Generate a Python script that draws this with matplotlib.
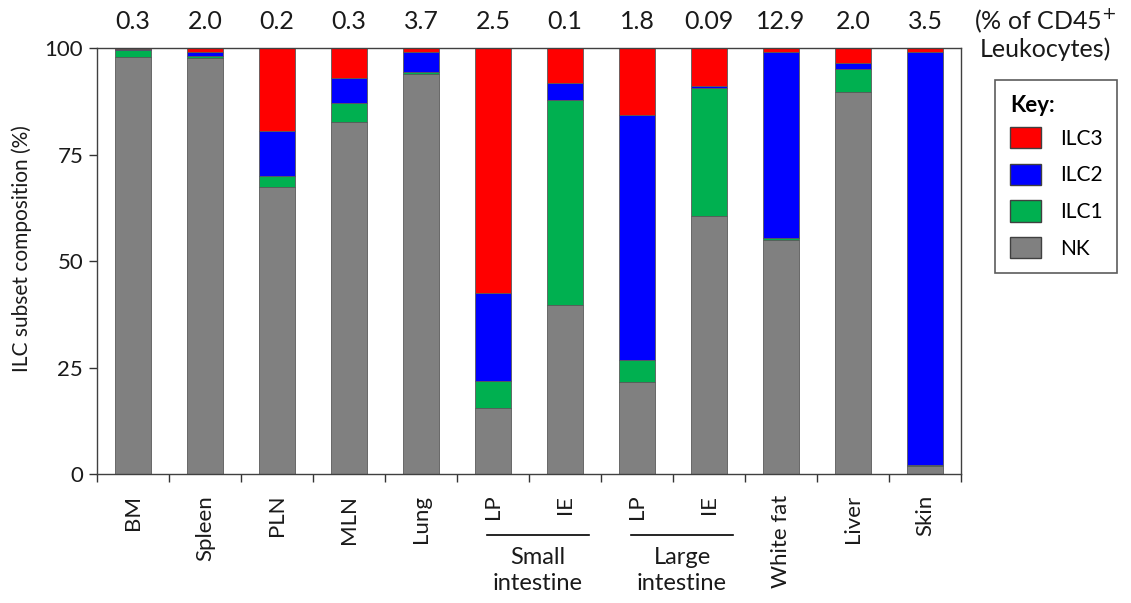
import matplotlib
matplotlib.use("Agg")
import matplotlib.pyplot as plt
from matplotlib.patches import Patch
import matplotlib.transforms as mtransforms

plt.rcParams['font.family'] = ['Lato', 'DejaVu Sans']

tissues = ["BM", "Spleen", "PLN", "MLN", "Lung", "LP", "IE", "LP", "IE",
           "White fat", "Liver", "Skin"]
freq_labels = ["0.3", "2.0", "0.2", "0.3", "3.7", "2.5", "0.1", "1.8", "0.09",
               "12.9", "2.0", "3.5"]

nk   = [98.0, 97.6, 67.4, 82.6, 94.0, 15.4, 39.7, 21.6, 60.5, 55.0, 89.7, 1.8]
ilc1 = [1.5,  0.6,  2.6,  4.5,  0.3,  6.5, 48.1,  5.2, 30.2,  0.5,  5.4, 0.4]
ilc2 = [0.2,  0.8, 10.4,  5.9,  4.8, 20.7,  3.9, 57.5,  0.3, 43.6,  1.4, 96.9]
ilc3 = [0.3,  1.0, 19.6,  7.0,  0.9, 57.4,  8.3, 15.7,  9.0,  0.9,  3.5, 0.9]

groups = [("Small\nintestine", 5, 6), ("Large\nintestine", 7, 8)]

series = [("NK", nk, "#808080"), ("ILC1", ilc1, "#00B050"),
          ("ILC2", ilc2, "#0000FF"), ("ILC3", ilc3, "#FF0000")]

fig = plt.figure(figsize=(11.31, 6.03), dpi=100)
ax = fig.add_axes([0.0858, 0.2139, 0.7639, 0.7065])

x = list(range(len(tissues)))
bottom = [0.0] * len(tissues)
for name, vals, color in series:
    ax.bar(x, vals, width=0.51, bottom=bottom, color=color,
           edgecolor="#5a5a5a", linewidth=0.6)
    bottom = [b + v for b, v in zip(bottom, vals)]

ax.set_xlim(-0.5, len(tissues) - 0.5)
ax.set_ylim(0, 100)
ax.set_yticks([0, 25, 50, 75, 100])
ax.tick_params(axis="y", labelsize=16, length=6, width=1, color="#333333",
               pad=4, labelcolor="#1a1a1a")
ax.set_xticks(x)
ax.set_xticklabels(tissues, rotation=90, fontsize=16, va="top",
                   color="#1a1a1a")
ax.tick_params(axis="x", which="major", length=0, pad=15)
ax.set_xticks([i - 0.5 for i in range(len(tissues) + 1)], minor=True)
ax.tick_params(axis="x", which="minor", length=6, width=1, color="#333333")
for sp in ax.spines.values():
    sp.set_color("#404040")
    sp.set_linewidth(1.0)

trans = mtransforms.blended_transform_factory(ax.transData, ax.transAxes)

# tissue frequency above each bar
for i, lab in enumerate(freq_labels):
    ax.text(i, 1.063, lab, transform=trans, ha="center", va="center",
            fontsize=18, color="#1a1a1a")

# intestine group brackets
for text, a, b in groups:
    x0, x1 = a - 0.08, b + 0.33
    ax.plot([x0, x1], [-0.143, -0.143], transform=trans, color="black",
            linewidth=1.2, clip_on=False)
    ax.text((x0 + x1) / 2, -0.172, text, transform=trans, ha="center",
            va="top", fontsize=17, linespacing=1.28, color="#1a1a1a")

fig.text(0.019, 0.587, "ILC subset composition (%)", rotation=90,
         ha="center", va="center", fontsize=15, color="#1a1a1a")
fig.text(0.924, 0.944, "(% of CD45$^{+}$\nLeukocytes)", ha="center",
         va="center", fontsize=18, linespacing=1.15, color="#1a1a1a")

handles = [Patch(facecolor=c, edgecolor="#404040", linewidth=1, label=n)
           for n, _, c in reversed(series)]
leg = fig.legend(handles=handles, loc="upper left",
                 bbox_to_anchor=(0.880, 0.867), title="Key:",
                 title_fontproperties={"weight": "bold", "size": 16},
                 fontsize=15, frameon=True, fancybox=False,
                 edgecolor="#333333", handlelength=1.5, handleheight=1.2,
                 labelspacing=0.72, borderpad=0.7, alignment="left",
                 handletextpad=0.9, borderaxespad=0)
leg.get_frame().set_linewidth(1.2)
leg._legend_box.sep = 8

fig.savefig("out.png", dpi=100)
